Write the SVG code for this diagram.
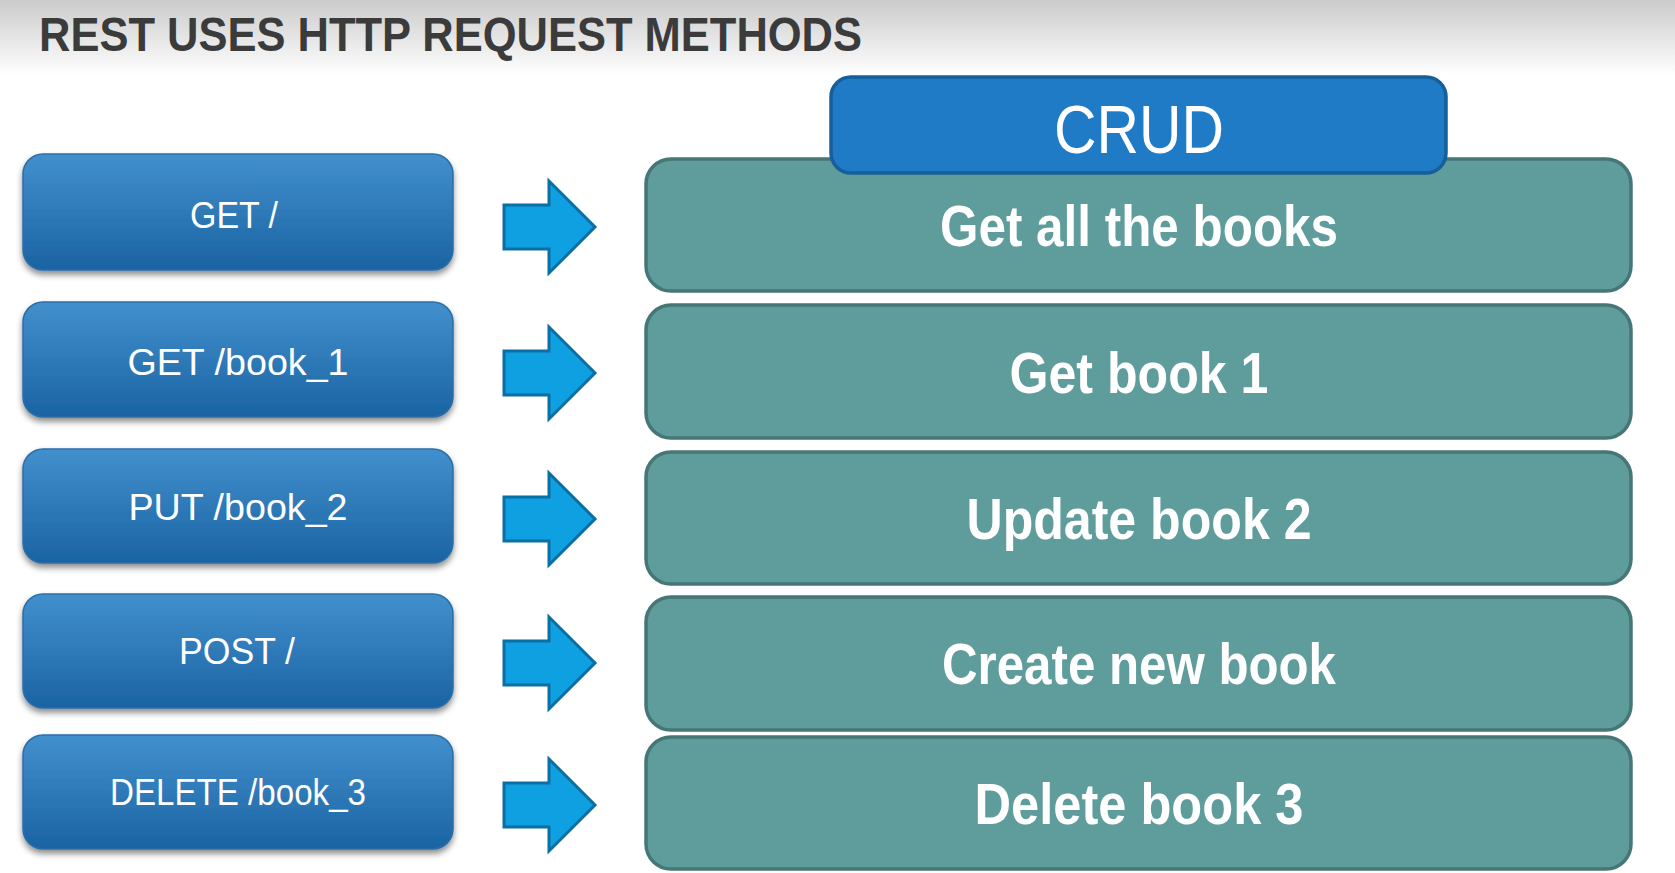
<svg xmlns="http://www.w3.org/2000/svg" width="1675" height="873" viewBox="0 0 1675 873">
  <defs>
    <linearGradient id="bg" x1="0" y1="0" x2="0" y2="1">
      <stop offset="0" stop-color="#cbcbcb"/>
      <stop offset="1" stop-color="#ffffff"/>
    </linearGradient>
    <linearGradient id="btn" x1="0" y1="0" x2="0" y2="1">
      <stop offset="0" stop-color="#4290cd"/>
      <stop offset="1" stop-color="#1b63a3"/>
    </linearGradient>
    <filter id="shadow" x="-5%" y="-10%" width="110%" height="130%">
      <feDropShadow dx="0" dy="4" stdDeviation="3" flood-color="#000" flood-opacity="0.45"/>
    </filter>
  </defs>
  <style>
    .title { font-family: "Liberation Sans", Arial, sans-serif; font-weight: bold; font-size: 49px; fill: #3b3b3b; }
    .req rect { fill: url(#btn); stroke: #2b6ea8; stroke-width: 1.5; filter: url(#shadow); }
    .req text { font-family: "Liberation Sans", Arial, sans-serif; font-size: 37px; fill: #ffffff; text-anchor: middle; }
    .op rect { fill: #5f9c9c; stroke: #467676; stroke-width: 3.5; }
    .op text { font-family: "Liberation Sans", Arial, sans-serif; font-weight: bold; font-size: 57px; fill: #ffffff; text-anchor: middle; }
    .crud rect { fill: #1f7bc5; stroke: #175f9b; stroke-width: 3.5; }
    .crud text { font-family: "Liberation Sans", Arial, sans-serif; font-size: 68px; fill: #ffffff; text-anchor: middle; }
    .arrow { fill: #0ea0e0; stroke: #0b6ea5; stroke-width: 3; stroke-linejoin: miter; }
  </style>

  <rect x="0" y="0" width="1675" height="873" fill="#ffffff"/>
  <rect x="0" y="0" width="1675" height="75" fill="url(#bg)"/>

  <text class="title" x="39" y="51" textLength="823" lengthAdjust="spacingAndGlyphs">REST USES HTTP REQUEST METHODS</text>

  <!-- Request method nodes -->
  <g id="req-get-all" class="req">
    <rect x="23" y="154" width="430" height="116" rx="20"/>
    <text x="234" y="228" textLength="88" lengthAdjust="spacingAndGlyphs">GET /</text>
  </g>
  <g id="req-get-book1" class="req">
    <rect x="23" y="302" width="430" height="115" rx="20"/>
    <text x="238" y="375" textLength="221" lengthAdjust="spacingAndGlyphs">GET /book_1</text>
  </g>
  <g id="req-put-book2" class="req">
    <rect x="23" y="449" width="430" height="114" rx="20"/>
    <text x="238" y="520" textLength="219" lengthAdjust="spacingAndGlyphs">PUT /book_2</text>
  </g>
  <g id="req-post" class="req">
    <rect x="23" y="594" width="430" height="114" rx="20"/>
    <text x="237" y="664" textLength="116" lengthAdjust="spacingAndGlyphs">POST /</text>
  </g>
  <g id="req-delete-book3" class="req">
    <rect x="23" y="735" width="430" height="114" rx="20"/>
    <text x="238" y="805" textLength="256" lengthAdjust="spacingAndGlyphs">DELETE /book_3</text>
  </g>

  <!-- CRUD operation nodes -->
  <g id="op-get-all" class="op">
    <rect x="646" y="159" width="985" height="132" rx="25"/>
    <text x="1139" y="246" textLength="398" lengthAdjust="spacingAndGlyphs">Get all the books</text>
  </g>
  <g id="op-get-book1" class="op">
    <rect x="646" y="305" width="985" height="133" rx="25"/>
    <text x="1139" y="393" textLength="259" lengthAdjust="spacingAndGlyphs">Get book 1</text>
  </g>
  <g id="op-update-book2" class="op">
    <rect x="646" y="452" width="985" height="132" rx="25"/>
    <text x="1139" y="539" textLength="345" lengthAdjust="spacingAndGlyphs">Update book 2</text>
  </g>
  <g id="op-create-book" class="op">
    <rect x="646" y="597" width="985" height="133" rx="25"/>
    <text x="1139" y="684" textLength="394" lengthAdjust="spacingAndGlyphs">Create new book</text>
  </g>
  <g id="op-delete-book3" class="op">
    <rect x="646" y="737" width="985" height="132" rx="25"/>
    <text x="1139" y="824" textLength="329" lengthAdjust="spacingAndGlyphs">Delete book 3</text>
  </g>

  <!-- CRUD header -->
  <g id="crud-header" class="crud">
    <rect x="831" y="77" width="615" height="96" rx="20"/>
    <text x="1139" y="153" textLength="170" lengthAdjust="spacingAndGlyphs">CRUD</text>
  </g>

  <!-- Connectors -->
  <g id="connectors">
    <polygon class="arrow" points="504,205 549,205 549,181 595,227 549,273 549,249 504,249"/>
    <polygon class="arrow" points="504,351 549,351 549,327 595,373 549,419 549,395 504,395"/>
    <polygon class="arrow" points="504,497 549,497 549,473 595,519 549,565 549,541 504,541"/>
    <polygon class="arrow" points="504,641 549,641 549,617 595,663 549,709 549,685 504,685"/>
    <polygon class="arrow" points="504,783 549,783 549,759 595,805 549,851 549,827 504,827"/>
  </g>
</svg>
